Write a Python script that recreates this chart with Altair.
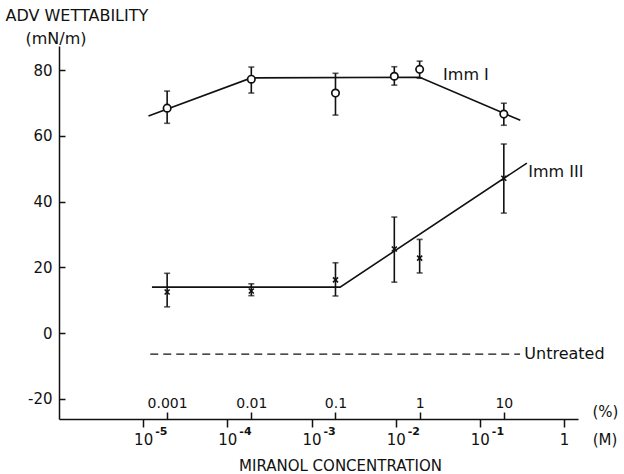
import altair as alt
import pandas as pd

# Molar mass of Miranol used to relate % (w/v) to molarity (1 % = 10 g/L)
MOLAR_MASS = 519.0


def pct_to_molar(p):
    return p * 10.0 / MOLAR_MASS


# Measured advancing wettability (mN/m) with error-bar limits
CONC_PCT = [0.001, 0.01, 0.1, 0.5, 1, 10]

IMM1_MEAN = [68.4, 77.2, 73.0, 78.1, 80.2, 66.6]
IMM1_LOW = [63.8, 73.0, 66.3, 75.4, 77.5, 63.2]
IMM1_HIGH = [73.6, 80.9, 79.0, 81.0, 82.7, 69.9]

IMM3_MEAN = [12.5, 12.8, 16.2, 25.6, 22.8, 47.1]
IMM3_LOW = [8.0, 11.4, 11.3, 15.5, 18.3, 36.5]
IMM3_HIGH = [18.2, 15.0, 21.4, 35.3, 28.5, 57.5]

# Hand-drawn trend lines
IMM1_FIT_PCT = [0.0006, 0.01, 1, 15.7]
IMM1_FIT = [66.0, 77.6, 77.8, 64.7]
IMM3_FIT_PCT = [0.00066, 0.1135, 18.8]
IMM3_FIT = [14.0, 14.0, 51.7]

# Untreated reference level
UNTREATED_PCT = [0.00063, 15.6]
UNTREATED = -6.4

# Series labels
LABEL_TEXT = ["Imm I", "Imm III", "Untreated"]
LABEL_PCT = [1.9, 19.5, 17.5]
LABEL_VAL = [78.4, 48.9, -6.4]

# Axis ticks
Y_TICKS = [-20, 0, 20, 40, 60, 80]
M_TICKS = [1e-5, 1e-4, 1e-3, 1e-2, 1e-1, 1]
M_TICK_MANTISSA = ["10", "10", "10", "10", "10", "1"]
M_TICK_EXPONENT = ["-5", "-4", "-3", "-2", "-1", ""]
PCT_TICKS = [0.001, 0.01, 0.1, 1, 10]
PCT_TICK_LABELS = ["0.001", "0.01", "0.1", "1", "10"]

W, H = 519, 373
FONT = "DejaVu Sans"
INK = "#111111"

pts = pd.DataFrame({
    "M": [pct_to_molar(p) for p in CONC_PCT] * 2,
    "mean": IMM1_MEAN + IMM3_MEAN,
    "low": IMM1_LOW + IMM3_LOW,
    "high": IMM1_HIGH + IMM3_HIGH,
    "series": ["Imm I"] * 6 + ["Imm III"] * 6,
})
imm1_pts = pts[pts.series == "Imm I"]
imm3_pts = pts[pts.series == "Imm III"]

imm1_fit = pd.DataFrame({"M": [pct_to_molar(p) for p in IMM1_FIT_PCT], "v": IMM1_FIT})
imm3_fit = pd.DataFrame({"M": [pct_to_molar(p) for p in IMM3_FIT_PCT], "v": IMM3_FIT})
untreated = pd.DataFrame({"M": [pct_to_molar(p) for p in UNTREATED_PCT],
                          "v": [UNTREATED] * len(UNTREATED_PCT)})
labels = pd.DataFrame({"M": [pct_to_molar(p) for p in LABEL_PCT],
                       "v": LABEL_VAL, "t": LABEL_TEXT})
exponents = pd.DataFrame({"M": M_TICKS, "e": M_TICK_EXPONENT})

xscale = alt.Scale(type="log", domain=[1e-6, 1.466])
yscale = alt.Scale(domain=[-26.1, 87.3], nice=False, zero=False)

m_expr = ("[" + ",".join(f"'{s}'" for s in M_TICK_MANTISSA) + "]"
          "[round(log(datum.value)/LN10) + 5]")
pct_expr = ("[" + ",".join(f"'{s}'" for s in PCT_TICK_LABELS) + "]"
            f"[round(log(datum.value * {MOLAR_MASS / 10.0})/LN10) + 3]")
y_expr = "datum.value < 0 ? '-' + abs(datum.value) : '' + datum.value"

# Molarity axis along the bottom, ticks pointing down
x_m_axis = alt.Axis(
    orient="bottom", values=M_TICKS, labelExpr=m_expr, grid=False,
    domainColor=INK, domainWidth=1.5, tickColor=INK, tickWidth=1.5, tickSize=8,
    labelFontSize=15, labelPadding=5, labelColor=INK,
    title="MIRANOL CONCENTRATION", titleFontSize=15, titleFontWeight="normal",
    titleColor=INK, titleX=281, titleY=46, titleBaseline="middle", titleAlign="center",
)
# Percent axis sitting on the same baseline, ticks pointing up
x_pct_axis = alt.Axis(
    orient="top", offset=-H, values=[pct_to_molar(p) for p in PCT_TICKS],
    labelExpr=pct_expr, grid=False, domain=False,
    tickColor=INK, tickWidth=1.5, tickSize=7,
    labelFontSize=14, labelPadding=2, labelColor=INK,
    title="(%)", titleFontSize=15, titleFontWeight="normal", titleColor=INK,
    titleX=546, titleY=-8, titleBaseline="middle", titleAlign="center", titleAngle=0,
)
# Left value axis: line and labels
y_axis = alt.Axis(
    orient="left", values=Y_TICKS, labelExpr=y_expr, grid=False, tickSize=0,
    labelPadding=7, domainColor=INK, domainWidth=1.5, labelFontSize=15,
    labelColor=INK,
    title="ADV WETTABILITY", titleFontSize=16, titleFontWeight="normal",
    titleColor=INK, titleAngle=0, titleX=-54, titleY=-31,
    titleAlign="left", titleBaseline="middle",
)
# Inward-pointing tick marks on the value axis
y_tick_axis = alt.Axis(
    orient="right", offset=-W, values=Y_TICKS, grid=False, labels=False,
    domain=False, tickColor=INK, tickWidth=1.5, tickSize=6,
    title="(mN/m)", titleFontSize=16, titleFontWeight="normal", titleColor=INK,
    titleAngle=0, titleX=-34, titleY=-8, titleAlign="left", titleBaseline="middle",
)

line1 = alt.Chart(imm1_fit).mark_line(color=INK, strokeWidth=1.6).encode(
    x=alt.X("M:Q", scale=xscale, axis=x_m_axis),
    y=alt.Y("v:Q", scale=yscale, axis=y_axis),
)
line3 = alt.Chart(imm3_fit).mark_line(color=INK, strokeWidth=1.6).encode(
    x=alt.X("M:Q", scale=xscale, axis=x_pct_axis),
    y=alt.Y("v:Q", scale=yscale, axis=y_tick_axis),
)
base_line = alt.Chart(untreated).mark_line(
    color=INK, strokeWidth=1.3, strokeDash=[8, 5]
).encode(
    x=alt.X("M:Q", scale=xscale, axis=None),
    y=alt.Y("v:Q", scale=yscale, axis=None),
)

bars = alt.Chart(pts).mark_rule(color=INK, strokeWidth=1.6).encode(
    x=alt.X("M:Q", scale=xscale, axis=None),
    y=alt.Y("low:Q", scale=yscale, axis=None),
    y2="high:Q",
)
cap_lo = alt.Chart(pts).mark_tick(
    orient="horizontal", color=INK, size=6, thickness=1.6
).encode(
    x=alt.X("M:Q", scale=xscale, axis=None),
    y=alt.Y("low:Q", scale=yscale, axis=None),
)
cap_hi = alt.Chart(pts).mark_tick(
    orient="horizontal", color=INK, size=6, thickness=1.6
).encode(
    x=alt.X("M:Q", scale=xscale, axis=None),
    y=alt.Y("high:Q", scale=yscale, axis=None),
)

circles = alt.Chart(imm1_pts).mark_point(
    shape="circle", filled=True, fill="white", stroke=INK, strokeWidth=1.7,
    size=55, opacity=1,
).encode(
    x=alt.X("M:Q", scale=xscale, axis=None),
    y=alt.Y("mean:Q", scale=yscale, axis=None),
)
crosses = alt.Chart(imm3_pts).mark_point(
    shape="M -1 -1 L 1 1 M 1 -1 L -1 1", filled=False, stroke=INK,
    strokeWidth=1.6, size=25, opacity=1,
).encode(
    x=alt.X("M:Q", scale=xscale, axis=None),
    y=alt.Y("mean:Q", scale=yscale, axis=None),
)

series_text = alt.Chart(labels).mark_text(
    align="left", baseline="middle", font=FONT, fontSize=16, color=INK
).encode(
    x=alt.X("M:Q", scale=xscale, axis=None),
    y=alt.Y("v:Q", scale=yscale, axis=None),
    text="t:N",
)

# Raised exponents next to the "10" tick labels of the molarity axis
exp_text = alt.Chart(exponents).mark_text(
    align="left", baseline="middle", font=FONT, fontSize=11, fontWeight="bold",
    color=INK, dx=12,
).encode(
    x=alt.X("M:Q", scale=xscale, axis=None),
    y=alt.value(H + 13),
    text="e:N",
)

molar_unit = alt.Chart(alt.Data(values=[{}])).mark_text(
    text="(M)", align="center", baseline="middle", font=FONT, fontSize=15, color=INK
).encode(x=alt.value(546), y=alt.value(394))

chart = (
    alt.layer(line1, line3, base_line, bars, cap_lo, cap_hi, circles, crosses,
              series_text, exp_text, molar_unit)
    .resolve_axis(x="independent", y="independent")
    .properties(
        width=W, height=H,
        autosize=alt.AutoSizeParams(type="none"),
        padding={"left": 59, "top": 46, "right": 46, "bottom": 55},
        background="white",
    )
    .configure_view(stroke=None)
    .configure_axis(labelFont=FONT, titleFont=FONT)
    .configure_text(font=FONT)
)

chart.save("out.html", embed_options={"renderer": "svg", "actions": False})
